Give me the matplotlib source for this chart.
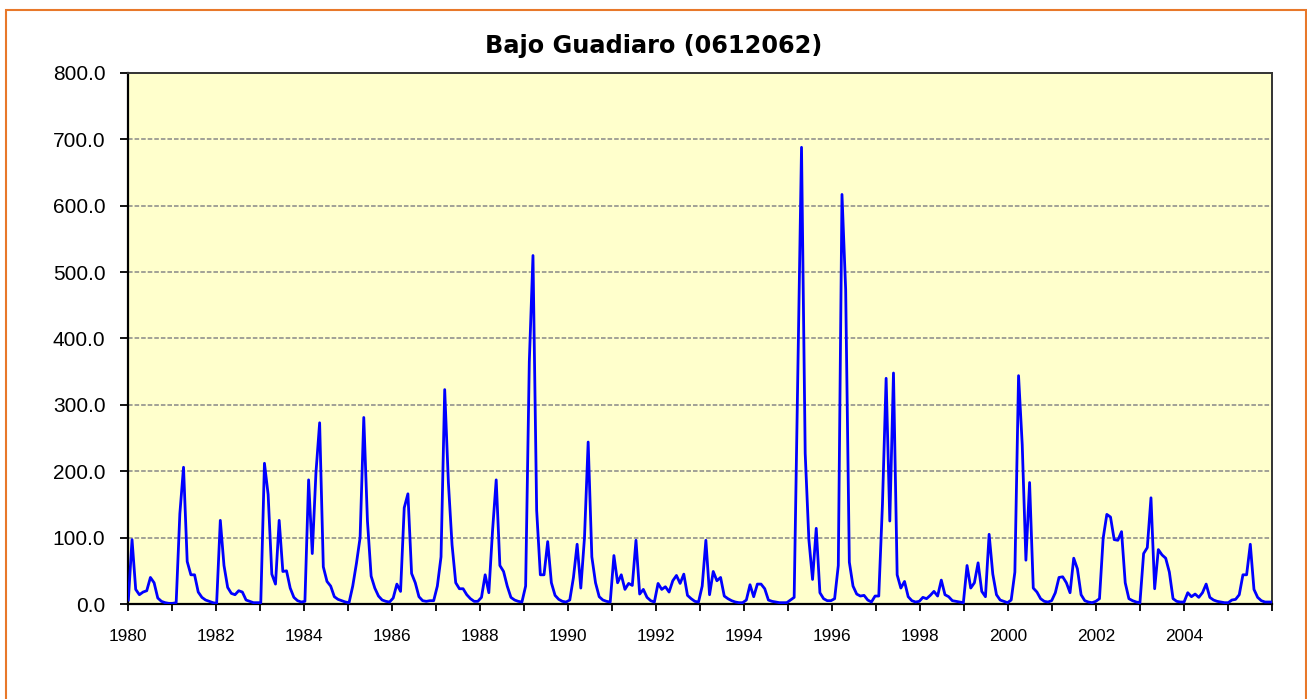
import numpy as np
import matplotlib
matplotlib.use("Agg")
import matplotlib.pyplot as plt
from matplotlib.patches import Rectangle

# monthly values, Jan 1980 .. Dec 2005
caudal_1980s = [
    6, 97, 22, 14, 18, 20, 40, 32, 9, 4, 2, 1,            # 1980
    1, 2, 136, 206, 64, 44, 44, 18, 10, 6, 4, 2,          # 1981
    1, 126, 58, 25, 16, 14, 20, 18, 6, 4, 2, 2,           # 1982
    2, 212, 165, 45, 30, 126, 49, 50, 24, 10, 5, 3,       # 1983
    4, 187, 76, 198, 273, 56, 34, 27, 11, 7, 5, 3,        # 1984
    2, 27, 61, 100, 281, 125, 42, 24, 12, 6, 4, 3,        # 1985
    9, 30, 19, 145, 166, 46, 32, 11, 5, 4, 5, 5,          # 1986
    27, 71, 323, 183, 89, 32, 23, 23, 14, 8, 4, 4,        # 1987
    10, 44, 17, 110, 187, 58, 49, 27, 10, 6, 4, 3,        # 1988
    27, 365, 525, 141, 44, 44, 94, 32, 13, 7, 4, 3,       # 1989
]
caudal_1990s = [
    6, 40, 90, 24, 100, 244, 71, 32, 11, 6, 4, 3,         # 1990
    73, 32, 44, 22, 31, 28, 96, 15, 22, 10, 5, 3,         # 1991
    31, 22, 26, 18, 35, 43, 31, 45, 13, 8, 4, 3,          # 1992
    27, 96, 14, 49, 35, 40, 12, 8, 5, 3, 2, 2,            # 1993
    6, 29, 11, 30, 30, 23, 6, 4, 3, 2, 2, 2,              # 1994
    6, 10, 350, 688, 227, 97, 37, 114, 17, 8, 5, 5,       # 1995
    8, 58, 617, 474, 63, 27, 15, 12, 13, 6, 3, 12,        # 1996
    12, 150, 340, 125, 348, 44, 24, 34, 11, 5, 3, 4,      # 1997
    10, 8, 13, 19, 12, 36, 14, 11, 5, 4, 3, 2,            # 1998
    58, 24, 32, 62, 19, 11, 105, 45, 14, 6, 4, 2,         # 1999
]
caudal_2000s = [
    6, 48, 344, 240, 66, 183, 24, 18, 8, 4, 3, 5,         # 2000
    17, 40, 41, 32, 17, 69, 53, 14, 5, 3, 2, 4,           # 2001
    8, 99, 135, 131, 97, 96, 109, 32, 8, 5, 3, 2,         # 2002
    76, 85, 160, 23, 82, 74, 69, 48, 8, 4, 3, 3,          # 2003
    17, 11, 15, 10, 17, 30, 10, 6, 4, 3, 2, 2,            # 2004
    6, 7, 14, 44, 44, 90, 22, 10, 5, 3, 3, 3,             # 2005
]
first_year = 1980
last_year = 2006
y_ticks = [0, 100, 200, 300, 400, 500, 600, 700, 800]

values = np.array(caudal_1980s + caudal_1990s + caudal_2000s, dtype=float)
x = np.linspace(first_year, last_year, len(values))

fig = plt.figure(figsize=(13.07, 6.99), dpi=100)
ax = fig.add_axes([0.0982, 0.1359, 0.8753, 0.7597])
ax.set_facecolor("#FFFFCC")

ax.plot(x, values, color="#0000FF", linewidth=2.0, zorder=3)

ax.set_xlim(first_year, last_year)
ax.set_ylim(0, 800)
ax.set_yticks(y_ticks)
ax.set_yticklabels(["%.1f" % v for v in y_ticks], family="Liberation Sans", fontsize=15)
years = list(range(first_year, last_year + 1))
ax.set_xticks(years)
ax.set_xticklabels([str(y) if (y - first_year) % 2 == 0 and y < last_year else "" for y in years],
                   family="Liberation Sans", fontsize=12.4)
ax.tick_params(axis="y", direction="out", length=5.5, width=1.3, pad=11)
ax.tick_params(axis="x", direction="out", length=4.8, width=1.3, pad=13)

for v in y_ticks[1:-1]:
    ax.axhline(v, color="#888888", linewidth=1.1, linestyle=(0, (3, 1.3)), zorder=1)

for side in ["left", "bottom"]:
    ax.spines[side].set_color("black")
    ax.spines[side].set_linewidth(1.6)
for side in ["top", "right"]:
    ax.spines[side].set_color("#333333")
    ax.spines[side].set_linewidth(1.4)

fig.text(0.5004, 0.9335, "Bajo Guadiaro (0612062)", ha="center", va="center",
         fontsize=17.3, fontweight="bold", family="DejaVu Sans")

# orange frame around the chart
fig.patches.append(Rectangle((6 / 1307, -0.01), 1299.5 / 1307, 1 - 10 / 699 + 0.01,
                             transform=fig.transFigure, fill=False,
                             edgecolor="#E8782A", linewidth=1.5))

fig.savefig("out.png", dpi=100)
